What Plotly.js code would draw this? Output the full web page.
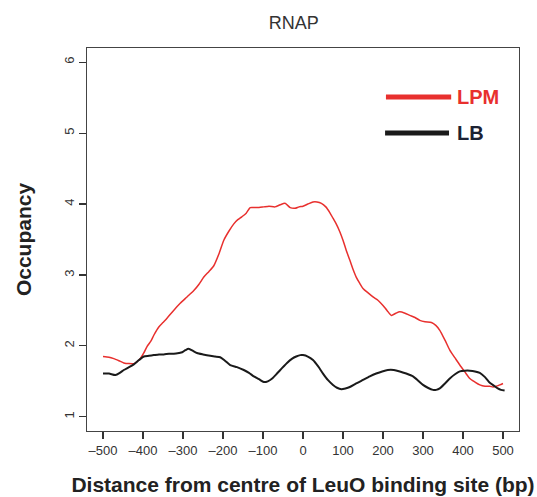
<!DOCTYPE html>
<html>
<head>
<meta charset="utf-8">
<script src="https://cdn.plot.ly/plotly-3.0.1.min.js"></script>
<style>html,body{margin:0;padding:0;background:#fff;}#chart{width:537px;height:497px;}</style>
</head>
<body>
<div id="chart"></div>
<script>
// LPM (red) series
const lpmX = [-500,-485,-473,-460,-448,-435,-423,-415,-407,-398,-390,-380,-373,-360,-350,-340,-325,-307,-290,-273,-260,-248,-235,-223,-210,-198,-185,-173,-163,-153,-142,-132,-120,-110,-98,-85,-70,-57,-45,-32,-20,-10,0,12,25,35,46,57,67,75,83,92,100,108,117,125,133,142,150,162,175,188,200,210,221,232,242,255,267,280,292,305,321,332,342,355,367,380,392,405,417,430,442,455,467,475,483,492,500];
const lpmY = [1.85,1.84,1.82,1.79,1.76,1.75,1.75,1.78,1.82,1.90,1.99,2.07,2.15,2.27,2.33,2.39,2.49,2.60,2.69,2.78,2.87,2.97,3.05,3.13,3.30,3.49,3.62,3.72,3.78,3.82,3.87,3.95,3.95,3.95,3.96,3.97,3.96,3.99,4.01,3.95,3.94,3.96,3.97,4.00,4.03,4.03,4.01,3.96,3.88,3.80,3.72,3.61,3.49,3.35,3.21,3.08,2.97,2.88,2.81,2.75,2.69,2.64,2.57,2.50,2.43,2.46,2.48,2.46,2.43,2.40,2.36,2.34,2.33,2.29,2.22,2.08,1.94,1.83,1.73,1.63,1.54,1.49,1.45,1.43,1.43,1.42,1.43,1.45,1.47];
// LB (black) series
const lbX = [-500,-485,-469,-458,-448,-435,-423,-410,-398,-385,-373,-360,-348,-335,-323,-310,-302,-294,-286,-275,-265,-250,-232,-220,-207,-195,-182,-165,-148,-135,-123,-110,-98,-88,-77,-65,-52,-40,-27,-17,-7,0,12,25,38,50,62,75,85,96,106,117,133,150,167,183,198,212,227,242,258,275,288,300,312,325,333,342,355,367,380,392,405,417,430,442,455,467,477,487,495,504];
const lbY = [1.61,1.61,1.59,1.62,1.66,1.70,1.74,1.80,1.85,1.86,1.87,1.88,1.88,1.89,1.89,1.90,1.91,1.94,1.96,1.93,1.90,1.88,1.86,1.85,1.84,1.79,1.73,1.70,1.66,1.62,1.57,1.53,1.49,1.50,1.54,1.61,1.69,1.76,1.82,1.85,1.87,1.87,1.85,1.80,1.71,1.61,1.52,1.45,1.41,1.39,1.40,1.42,1.47,1.52,1.57,1.61,1.64,1.66,1.66,1.64,1.61,1.57,1.51,1.45,1.41,1.38,1.38,1.40,1.47,1.54,1.60,1.64,1.65,1.65,1.64,1.62,1.56,1.48,1.44,1.40,1.38,1.37];
const xTicks = [-500,-400,-300,-200,-100,0,100,200,300,400,500];
const yTicks = [1,2,3,4,5,6];
const seriesNames = ['LPM','LB'];
const seriesColors = ['#e8302e','#1a1a1a'];

const traces = [
  {x: lpmX, y: lpmY, type: 'scatter', mode: 'lines', name: seriesNames[0],
   line: {color: seriesColors[0], width: 1.5, shape: 'spline', smoothing: 0.6}, hoverinfo: 'x+y'},
  {x: lbX, y: lbY, type: 'scatter', mode: 'lines', name: seriesNames[1],
   line: {color: seriesColors[1], width: 2, shape: 'spline', smoothing: 0.6}, hoverinfo: 'x+y'}
];

const FF = 'Liberation Sans, Arial, sans-serif';
const axisFont = {family: FF, size: 13, color: '#333'};
const layout = {
  width: 537, height: 497,
  margin: {l: 87, r: 18, t: 48, b: 66},
  paper_bgcolor: '#fff', plot_bgcolor: '#fff',
  showlegend: false,
  title: {text: 'RNAP', font: {family: FF, size: 18, color: '#333'},
          xref: 'container', x: 0.547, xanchor: 'center', yref: 'container', y: 0.955, yanchor: 'middle'},
  xaxis: {
    range: [-540, 540], tickvals: xTicks, ticktext: xTicks.map(v => v < 0 ? '\u2013' + Math.abs(v) : String(v)),
    ticks: 'outside', ticklen: 7, tickwidth: 1.2, tickcolor: '#333',
    showline: true, linecolor: '#444', linewidth: 1.2, mirror: true,
    showgrid: false, zeroline: false, tickfont: axisFont,
    title: {text: 'Distance from centre of LeuO binding site (bp)', standoff: 20,
            font: {family: FF, size: 21, color: '#222', weight: 'bold'}}
  },
  yaxis: {
    range: [0.8, 6.2], tickvals: yTicks, tickangle: -90,
    ticks: 'outside', ticklen: 7, tickwidth: 1.2, tickcolor: '#333',
    showline: true, linecolor: '#444', linewidth: 1.2, mirror: true,
    showgrid: false, zeroline: false, tickfont: axisFont,
    title: {text: 'Occupancy', standoff: 24,
            font: {family: FF, size: 21, color: '#222', weight: 'bold'}}
  },
  shapes: [
    {type: 'line', xref: 'paper', yref: 'paper', x0: 0.692, x1: 0.843, y0: 0.872, y1: 0.872,
     line: {color: seriesColors[0], width: 5}},
    {type: 'line', xref: 'paper', yref: 'paper', x0: 0.690, x1: 0.838, y0: 0.778, y1: 0.778,
     line: {color: seriesColors[1], width: 5}}
  ],
  annotations: [
    {xref: 'paper', yref: 'paper', x: 0.853, y: 0.872, xanchor: 'left', yanchor: 'middle', showarrow: false,
     text: '<b>' + seriesNames[0] + '</b>', font: {family: FF, size: 20, color: seriesColors[0]}},
    {xref: 'paper', yref: 'paper', x: 0.853, y: 0.778, xanchor: 'left', yanchor: 'middle', showarrow: false,
     text: '<b>' + seriesNames[1] + '</b>', font: {family: FF, size: 20, color: '#1c2233'}}
  ]
};

Plotly.newPlot('chart', traces, layout, {displayModeBar: false, staticPlot: true});
</script>
</body>
</html>
